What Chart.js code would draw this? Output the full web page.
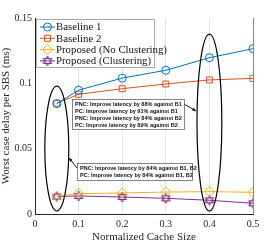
<!DOCTYPE html>
<html>
<head>
<meta charset="utf-8">
<script src="https://cdn.jsdelivr.net/npm/chart.js@4/dist/chart.umd.min.js"></script>
<style>
  html, body { margin: 0; padding: 0; background: #fff; }
  #wrap { width: 272px; height: 244px; }
</style>
</head>
<body>
<div id="wrap"><canvas id="c"></canvas></div>
<script>
// data
var cacheSize  = [0.05, 0.1, 0.2, 0.3, 0.4, 0.5];
var baseline1  = [0.0845, 0.0948, 0.1040, 0.1100, 0.1196, 0.1265];
var baseline2  = [0.0847, 0.0916, 0.0959, 0.0995, 0.1026, 0.1038];
var proposedNC = [0.0135, 0.0156, 0.0161, 0.0168, 0.0171, 0.0166];
var proposedC  = [0.0133, 0.0138, 0.0130, 0.0120, 0.0105, 0.0082];
var seriesNames = ['Baseline 1', 'Baseline 2', 'Proposed (No Clustering)', 'Proposed (Clustering)'];
var xTicks = [0, 0.1, 0.2, 0.3, 0.4, 0.5];
var yTicks = [0, 0.05, 0.1, 0.15];
var noteHigh = [
  'PNC: Improve latency by 88% against B1',
  'PC: Improve latency by 91% against B1',
  'PNC: Improve latency by 84% against B2',
  'PC: Improve latency by 89% against B2'
];
var noteLow = [
  'PNC: Improve latency by 84% against B1, B2',
  'PC: Improve latency by 84% against B1, B2'
];

function pts(ys) {
  return cacheSize.map(function (x, i) { return { x: x, y: ys[i] }; });
}

// purple hexagram marker
function hexagram(color) {
  var cv = document.createElement('canvas');
  cv.width = 12; cv.height = 12;
  var g = cv.getContext('2d');
  g.strokeStyle = color; g.lineWidth = 1;
  for (var k = 0; k < 2; k++) {
    g.beginPath();
    for (var i = 0; i < 3; i++) {
      var a = -Math.PI / 2 + k * Math.PI + i * 2 * Math.PI / 3;
      var px = 6 + 5 * Math.cos(a), py = 6 + 5 * Math.sin(a);
      if (i) g.lineTo(px, py); else g.moveTo(px, py);
    }
    g.closePath();
    g.stroke();
  }
  return cv;
}

var cols = ['#0072BD', '#D95319', '#EDB120', '#7E2F8E'];
var styles = ['circle', 'rect', 'rectRot', hexagram(cols[3])];
var radii = [4, 4.2, 5, 5];
var values = [baseline1, baseline2, proposedNC, proposedC];

var datasets = [];
for (var i = 0; i < values.length; i++) {
  datasets.push({
    label: seriesNames[i],
    data: pts(values[i]),
    borderColor: cols[i],
    backgroundColor: 'rgba(0,0,0,0)',
    borderWidth: 1,
    pointStyle: styles[i],
    pointRadius: radii[i],
    pointBorderWidth: 1,
    pointBackgroundColor: 'rgba(0,0,0,0)',
    pointBorderColor: cols[i]
  });
}

// annotation shapes, in data units
var ellipses = [
  { cx: 0.05, cy: 0.0501, rx: 0.0275, ry: 0.0478 },
  { cx: 0.4,  cy: 0.0700, rx: 0.0285, ry: 0.0677 }
];
var boxes = [
  { x0: 0.0849, y0: 0.0880, x1: 0.3417, y1: 0.0650, lines: noteHigh },
  { x0: 0.0963, y0: 0.0390, x1: 0.3600, y1: 0.0260, lines: noteLow }
];
var arrows = [
  { x0: 0.3417, y0: 0.0842, x1: 0.3693, y1: 0.0788 },
  { x0: 0.0963, y0: 0.0352, x1: 0.0780, y1: 0.0429 }
];

var extras = {
  id: 'extras',
  afterDatasetsDraw: function (chart) {
    var ctx = chart.ctx, xs = chart.scales.x, ys = chart.scales.y, a = chart.chartArea;
    ctx.save();
    // right border
    ctx.strokeStyle = '#888';
    ctx.lineWidth = 1;
    ctx.beginPath();
    ctx.moveTo(a.right + 0.5, a.top); ctx.lineTo(a.right + 0.5, a.bottom);
    ctx.stroke();

    // ellipses
    ctx.strokeStyle = '#000';
    ctx.lineWidth = 1.2;
    ellipses.forEach(function (e) {
      var cx = xs.getPixelForValue(e.cx), cy = ys.getPixelForValue(e.cy);
      var rx = xs.getPixelForValue(e.cx + e.rx) - cx;
      var ry = cy - ys.getPixelForValue(e.cy + e.ry);
      ctx.beginPath();
      ctx.ellipse(cx, cy, rx, ry, 0, 0, Math.PI * 2);
      ctx.stroke();
    });

    // arrows
    ctx.lineWidth = 0.9;
    ctx.fillStyle = '#000';
    arrows.forEach(function (r) {
      var x0 = xs.getPixelForValue(r.x0), y0 = ys.getPixelForValue(r.y0);
      var x1 = xs.getPixelForValue(r.x1), y1 = ys.getPixelForValue(r.y1);
      ctx.beginPath(); ctx.moveTo(x0, y0); ctx.lineTo(x1, y1); ctx.stroke();
      var ang = Math.atan2(y1 - y0, x1 - x0);
      ctx.beginPath();
      ctx.moveTo(x1, y1);
      ctx.lineTo(x1 - 4 * Math.cos(ang - 0.4), y1 - 4 * Math.sin(ang - 0.4));
      ctx.lineTo(x1 - 4 * Math.cos(ang + 0.4), y1 - 4 * Math.sin(ang + 0.4));
      ctx.closePath(); ctx.fill();
    });

    // text boxes
    boxes.forEach(function (b) {
      var x0 = xs.getPixelForValue(b.x0), y0 = ys.getPixelForValue(b.y0);
      var x1 = xs.getPixelForValue(b.x1), y1 = ys.getPixelForValue(b.y1);
      ctx.fillStyle = '#fff';
      ctx.fillRect(x0, y0, x1 - x0, y1 - y0);
      ctx.strokeStyle = '#666';
      ctx.lineWidth = 0.8;
      ctx.strokeRect(x0 + 0.5, y0 + 0.5, x1 - x0, y1 - y0);
      ctx.fillStyle = '#111';
      ctx.font = 'bold 5.5px "Liberation Sans", Arial, sans-serif';
      ctx.textBaseline = 'middle';
      ctx.textAlign = 'left';
      b.lines.forEach(function (t, k) {
        ctx.fillText(t, x0 + 3, y0 + 5 + k * 7);
      });
    });

    // legend
    var lx = a.left + 1, ly = a.top + 1, lw = 118, lh = 48;
    ctx.fillStyle = '#fff';
    ctx.fillRect(lx, ly, lw, lh);
    ctx.strokeStyle = '#999';
    ctx.lineWidth = 0.8;
    ctx.strokeRect(lx + 0.5, ly + 0.5, lw, lh);
    ctx.font = '10.8px "Liberation Serif", "Times New Roman", serif';
    ctx.textBaseline = 'middle';
    ctx.textAlign = 'left';
    chart.data.datasets.forEach(function (ds, k) {
      var yy = ly + 8 + k * 11.3;
      ctx.strokeStyle = ds.borderColor;
      ctx.lineWidth = 1;
      ctx.beginPath(); ctx.moveTo(lx + 4, yy); ctx.lineTo(lx + 19, yy); ctx.stroke();
      ctx.fillStyle = 'rgba(0,0,0,0)';
      Chart.helpers.drawPoint(ctx, { pointStyle: ds.pointStyle, radius: ds.pointRadius, rotation: 0, borderWidth: 1 }, lx + 11.5, yy);
      ctx.fillStyle = '#111';
      ctx.fillText(ds.label, lx + 20, yy + 0.5);
    });
    ctx.restore();
  }
};

var serif = '"Liberation Serif", "Times New Roman", serif';

new Chart(document.getElementById('c'), {
  type: 'line',
  data: { datasets: datasets },
  options: {
    responsive: true,
    maintainAspectRatio: false,
    animation: false,
    events: [],
    layout: { padding: { left: 0, top: 18, right: 19, bottom: 0 } },
    plugins: { legend: { display: false }, tooltip: { enabled: false } },
    scales: {
      x: {
        type: 'linear',
        min: 0, max: 0.5,
        afterFit: function (s) { s.height = 30; },
        afterBuildTicks: function (s) { s.ticks = xTicks.map(function (v) { return { value: v }; }); },
        grid: { color: '#e4e4e4', drawTicks: false },
        border: { color: '#262626' },
        ticks: {
          padding: 4,
          color: '#262626',
          font: { family: serif, size: 10 },
          callback: function (v) { return String(v); }
        },
        title: { display: true, text: 'Normalized Cache Size', color: '#262626', padding: { top: 0, bottom: 0 }, font: { family: serif, size: 11 } }
      },
      y: {
        min: 0, max: 0.15,
        afterFit: function (s) { s.width = 35; },
        afterBuildTicks: function (s) { s.ticks = yTicks.map(function (v) { return { value: v }; }); },
        grid: { display: false, drawTicks: false },
        border: { color: '#262626' },
        ticks: {
          padding: 3,
          color: '#262626',
          font: { family: serif, size: 10 },
          callback: function (v) { return String(v); }
        },
        title: { display: true, text: 'Worst case delay per SBS (ms)', color: '#262626', padding: { top: 0, bottom: 0 }, font: { family: serif, size: 11 } }
      }
    }
  },
  plugins: [extras]
});
</script>
</body>
</html>
